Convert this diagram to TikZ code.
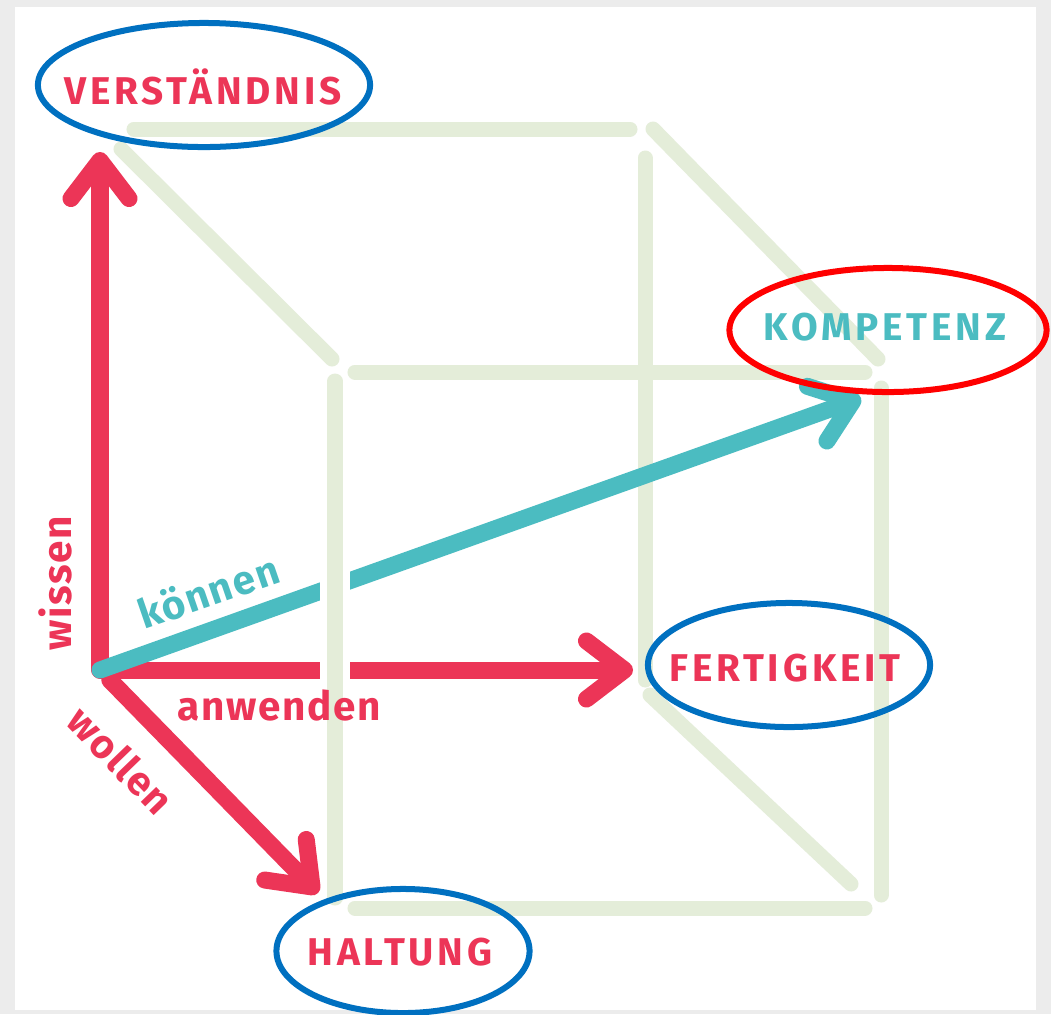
\documentclass[tikz,border=0pt]{standalone}
\usepackage{fontspec}
\setmainfont{Fira Sans}
\newfontfamily\capsfont{Fira Sans}[LetterSpace=10]
\newfontfamily\wordfont{Fira Sans}[LetterSpace=4]
\usetikzlibrary{arrows.meta}
\definecolor{kred}{HTML}{EC3557}
\definecolor{kcyan}{HTML}{4BBCC1}
\definecolor{kgreen}{HTML}{E4EDD9}
\definecolor{kblue}{HTML}{0070C0}
\definecolor{kring}{HTML}{FF0000}
\tikzset{
  cube/.style={kgreen,line width=0.15cm},
  axis/.style={-{Straight Barb[length=3.8mm,width=5.8mm,round]},line width=0.17cm},
  ring/.style={kblue,line width=0.06cm},
  big/.style={font=\capsfont\bfseries\fontsize{11}{13}\selectfont},
  small/.style={font=\wordfont\bfseries\fontsize{11.5}{13}\selectfont}
}
\begin{document}
\begin{tikzpicture}[x=0.01cm,y=-0.01cm,line join=round,line cap=round]
\fill[gray!15] (0,0) rectangle (1051,1014);
\fill[white] (15,7) rectangle (1036,1010);
\useasboundingbox (0,0) rectangle (1051,1014);
% cube
\draw[cube] (134,129)--(630,129);
\draw[cube] (121,149)--(332,359);
\draw[cube] (653,129)--(878,359);
\draw[cube] (645,158)--(645,680);
\draw[cube] (650,695)--(851,884);
\draw[cube] (355,372)--(865,372);
\draw[cube] (881,388)--(881,895);
\draw[cube] (355,908)--(865,908);
\draw[cube] (335,381)--(335,898);
% axes
\coordinate (O) at (100,670);
\coordinate (wissenTip) at (100,152);
\coordinate (anwendenTip) at (633,670);
\coordinate (wollenTip) at (318,893);
\coordinate (koennenTip) at (861,398);
\draw[axis,kred] (O)--(wissenTip);
\draw[axis,kred] (O)--(anwendenTip);
\draw[axis,kred,shorten <=0.14cm] (O)--(wollenTip);
\draw[axis,kcyan] (O)--(koennenTip);
\draw[white,line width=0.29cm,line cap=butt] (335,560)--(335,700);
\draw[cube,line cap=butt] (335,550)--(335,710);
% labels
\node[big,text=kred] (verst) at (203,87) {VERSTÄNDNIS};
\node[big,text=kcyan] (kompetenz) at (885,327) {KOMPETENZ};
\node[big,text=kred] (fertigkeit) at (785,668) {FERTIGKEIT};
\node[big,text=kred] (haltung) at (400,952) {HALTUNG};
\draw[ring] (204,85) ellipse (1.66cm and 0.62cm);
\draw[ring,kring] (888,330) ellipse (1.585cm and 0.62cm);
\draw[ring] (789,665) ellipse (1.41cm and 0.62cm);
\draw[ring] (403,951) ellipse (1.265cm and 0.62cm);
\node[small,text=kred,rotate=90] (wissen) at (55,583) {wissen};
\node[small,text=kcyan,rotate=19] (koennen) at (208,591) {können};
\node[small,text=kred] (anwenden) at (279,705) {anwenden};
\node[small,text=kred,rotate=-46] (wollen) at (121,760) {wollen};
\end{tikzpicture}
\end{document}
